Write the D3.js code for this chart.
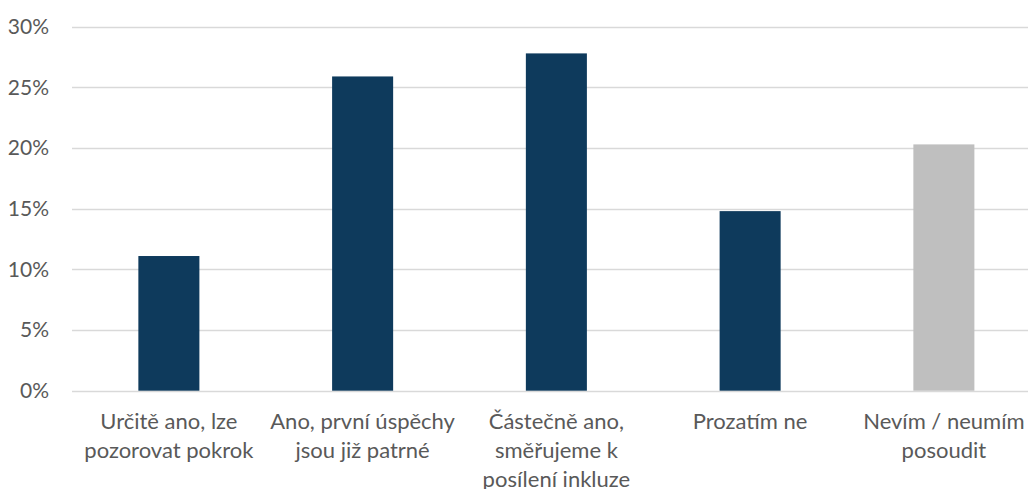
<!DOCTYPE html>
<html>
<head>
<meta charset="utf-8">
<script src="https://cdn.jsdelivr.net/npm/d3@7"></script>
<style>
  html, body { margin: 0; padding: 0; background: #fff; }
  svg { display: block; }
</style>
</head>
<body>
<svg id="chart" width="1028" height="489"></svg>
<script>
const categories = ["c1", "c2", "c3", "c4", "c5"];
const labelLines = [
  ["Určitě ano, lze", "pozorovat pokrok"],
  ["Ano, první úspěchy", "jsou již patrné"],
  ["Částečně ano,", "směřujeme k", "posílení inkluze"],
  ["Prozatím ne"],
  ["Nevím / neumím", "posoudit"]
];
const values = [11.1, 25.9, 27.8, 14.8, 20.3];
const barColors = ["#0E3A5C", "#0E3A5C", "#0E3A5C", "#0E3A5C", "#BFBFBF"];
const yTicks = [0, 5, 10, 15, 20, 25, 30];

const svg = d3.select("#chart");
const font = "Lato, 'Open Sans', sans-serif";

const x = d3.scaleBand().domain(categories).range([72, 1040.75]).paddingInner(0.685).paddingOuter(0.3425);
const y = d3.scaleLinear().domain([0, 30]).range([390.7, 26.7]);

// gridlines
svg.append("g").selectAll("line").data(yTicks).join("line")
  .attr("x1", 72).attr("x2", 1028)
  .attr("y1", d => Math.round(y(d)) + 0.5).attr("y2", d => Math.round(y(d)) + 0.5)
  .attr("stroke", "#D9D9D9").attr("stroke-width", 1.3);

// y labels
const yAxis = d3.axisLeft(y).tickValues(yTicks).tickFormat(d => d + "%").tickSize(0).tickPadding(0);
const ga = svg.append("g").attr("transform", "translate(49,0)").call(yAxis);
ga.select(".domain").remove();
ga.selectAll("text").attr("fill", "#595959").style("font-family", font).style("font-size", "21px");

// bars
svg.append("g").selectAll("rect").data(values).join("rect")
  .attr("x", (d, i) => x(categories[i]))
  .attr("width", x.bandwidth())
  .attr("y", d => y(d))
  .attr("height", d => y(0) - y(d))
  .attr("fill", (d, i) => barColors[i]);

// category labels
const lg = svg.append("g");
categories.forEach((c, i) => {
  const cx = x(c) + x.bandwidth() / 2;
  const t = lg.append("text")
    .attr("text-anchor", "middle")
    .attr("fill", "#595959")
    .style("font-family", font).style("font-size", "22px");
  labelLines[i].forEach((ln, j) => {
    t.append("tspan").attr("x", cx).attr("y", 429 + j * 29).text(ln);
  });
});
</script>
</body>
</html>
